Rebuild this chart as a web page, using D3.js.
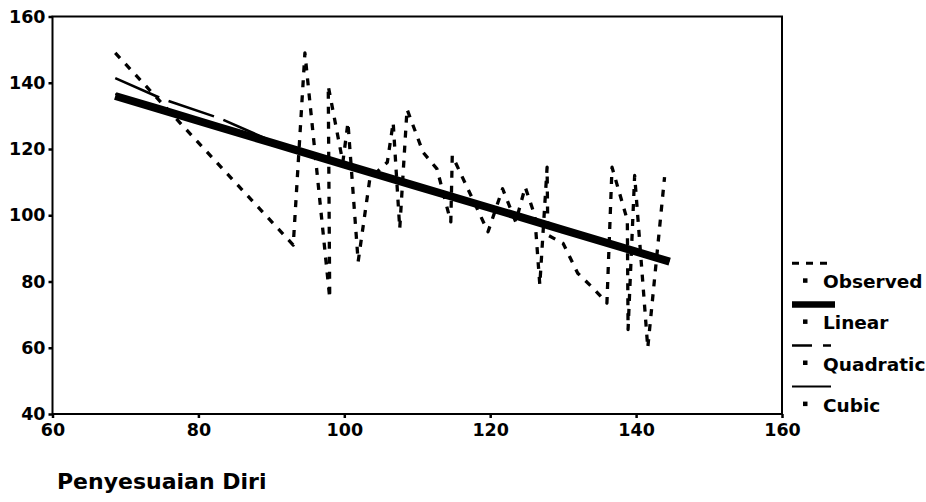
<!DOCTYPE html>
<html><head><meta charset="utf-8">
<script src="https://cdn.jsdelivr.net/npm/d3@7"></script>
<style>body{margin:0;background:#fff} svg{display:block}</style>
</head><body><svg id="c" width="926" height="502"></svg>
<script>
// ---- data ----
const xTicks = [60, 80, 100, 120, 140, 160];
const yTicks = [40, 60, 80, 100, 120, 140, 160];

const obsX = [68.6, 93.0, 94.6, 98.0, 97.8, 99.8, 100.5, 101.9, 103.5, 105.9, 106.7, 107.6, 108.6,
              110.8, 112.7, 114.6, 114.8, 119.7, 121.7, 123.5, 124.8, 126.1, 126.8, 127.8, 127.9,
              130.0, 132.0, 134.1, 136.0, 136.7, 138.8, 138.9, 139.8, 141.6, 143.9];
const obsY = [149, 91, 149, 75, 139, 116, 128, 86, 111, 116, 128, 96, 132,
              119, 114, 98, 118, 95, 108, 98, 108.5, 100, 79, 114.5, 94,
              91.5, 82.5, 78, 73.5, 114.5, 98.5, 65.5, 112, 60, 111.5];

const fitX    = [68.6, 75, 83, 90, 100, 110, 120, 130, 144.6];
const linearY = [136, 131.8, 126.5, 121.9, 115.3, 108.7, 102.2, 95.6, 86];
const quadY   = [141.4, 135.2, 129.2, 122.4, 114.8, 108.2, 101.9, 95.5, 86.4];
const cubicY  = [136.6, 132.2, 126.8, 122, 115.2, 108.6, 102.1, 95.7, 86.3];

const legendLabels = ["Observed", "Linear", "Quadratic", "Cubic"];
const xTitle = "Penyesuaian Diri";

// ---- drawing ----
const svg = d3.select("#c");
const FONT = "'DejaVu Sans', sans-serif";
const L = 52.5, R = 782, T = 16.5, B = 414;
const x = d3.scaleLinear().domain([60, 160]).range([L, R]);
const y = d3.scaleLinear().domain([40, 160]).range([B, T]);

const styles = {
  Observed:  {w: 3.3, dash: "7,8"},
  Linear:    {w: 8,   dash: null},
  Quadratic: {w: 2.6, dash: "48,10"},
  Cubic:     {w: 2,   dash: null}
};

// frame
const frame = svg.append("g").attr("stroke", "#000").attr("stroke-width", 2).attr("fill", "none");
frame.append("rect").attr("x", L).attr("y", T).attr("width", R - L).attr("height", B - T);

// axes
const ax = svg.append("g").attr("transform", `translate(0,${B})`)
  .call(d3.axisBottom(x).tickValues(xTicks).tickSize(4).tickPadding(6).tickFormat(d3.format("d")));
const ay = svg.append("g").attr("transform", `translate(${L},0)`)
  .call(d3.axisLeft(y).tickValues(yTicks).tickSize(4).tickPadding(3).tickFormat(d3.format("d")));
[ax, ay].forEach(g => {
  g.select(".domain").remove();
  g.selectAll(".tick line").attr("stroke", "#000").attr("stroke-width", 2.5);
  g.selectAll(".tick text").attr("font-family", FONT).attr("font-weight", "bold")
    .attr("font-size", 17.5).attr("fill", "#000");
});

const line = d3.line();
function drawSeries(xs, ys, st) {
  const pts = xs.map((v, i) => [x(v), y(ys[i])]);
  const p = svg.append("path").attr("d", line(pts)).attr("fill", "none")
    .attr("stroke", "#000").attr("stroke-width", st.w).attr("stroke-linejoin", "round");
  if (st.dash) p.attr("stroke-dasharray", st.dash);
}
drawSeries(obsX, obsY, styles.Observed);
drawSeries(fitX, quadY, styles.Quadratic);
drawSeries(fitX, cubicY, styles.Cubic);
drawSeries(fitX, linearY, styles.Linear);

// legend
const legDash = {Observed: "7,7", Linear: null, Quadratic: "20,11,8,100", Cubic: null};
const legW = {Observed: 3, Linear: 6.5, Quadratic: 2.6, Cubic: 2};
const lg = svg.append("g");
legendLabels.forEach((name, i) => {
  const y0 = 263.3 + i * 41.1;
  const sl = lg.append("line").attr("x1", 792).attr("x2", name === "Linear" ? 835 : 831)
    .attr("y1", y0).attr("y2", y0).attr("stroke", "#000").attr("stroke-width", legW[name]);
  if (legDash[name]) sl.attr("stroke-dasharray", legDash[name]);
  lg.append("rect").attr("x", 803).attr("y", y0 + 15).attr("width", 4.5).attr("height", 4.5).attr("fill", "#000");
  lg.append("text").attr("x", 823).attr("y", y0 + 25).attr("font-family", FONT)
    .attr("font-weight", "bold").attr("font-size", 18.5).attr("fill", "#000").text(name);
});

// x title
svg.append("text").attr("x", 57).attr("y", 489).attr("font-family", FONT)
  .attr("font-weight", "bold").attr("font-size", 22).attr("fill", "#000").text(xTitle);
</script></body></html>
